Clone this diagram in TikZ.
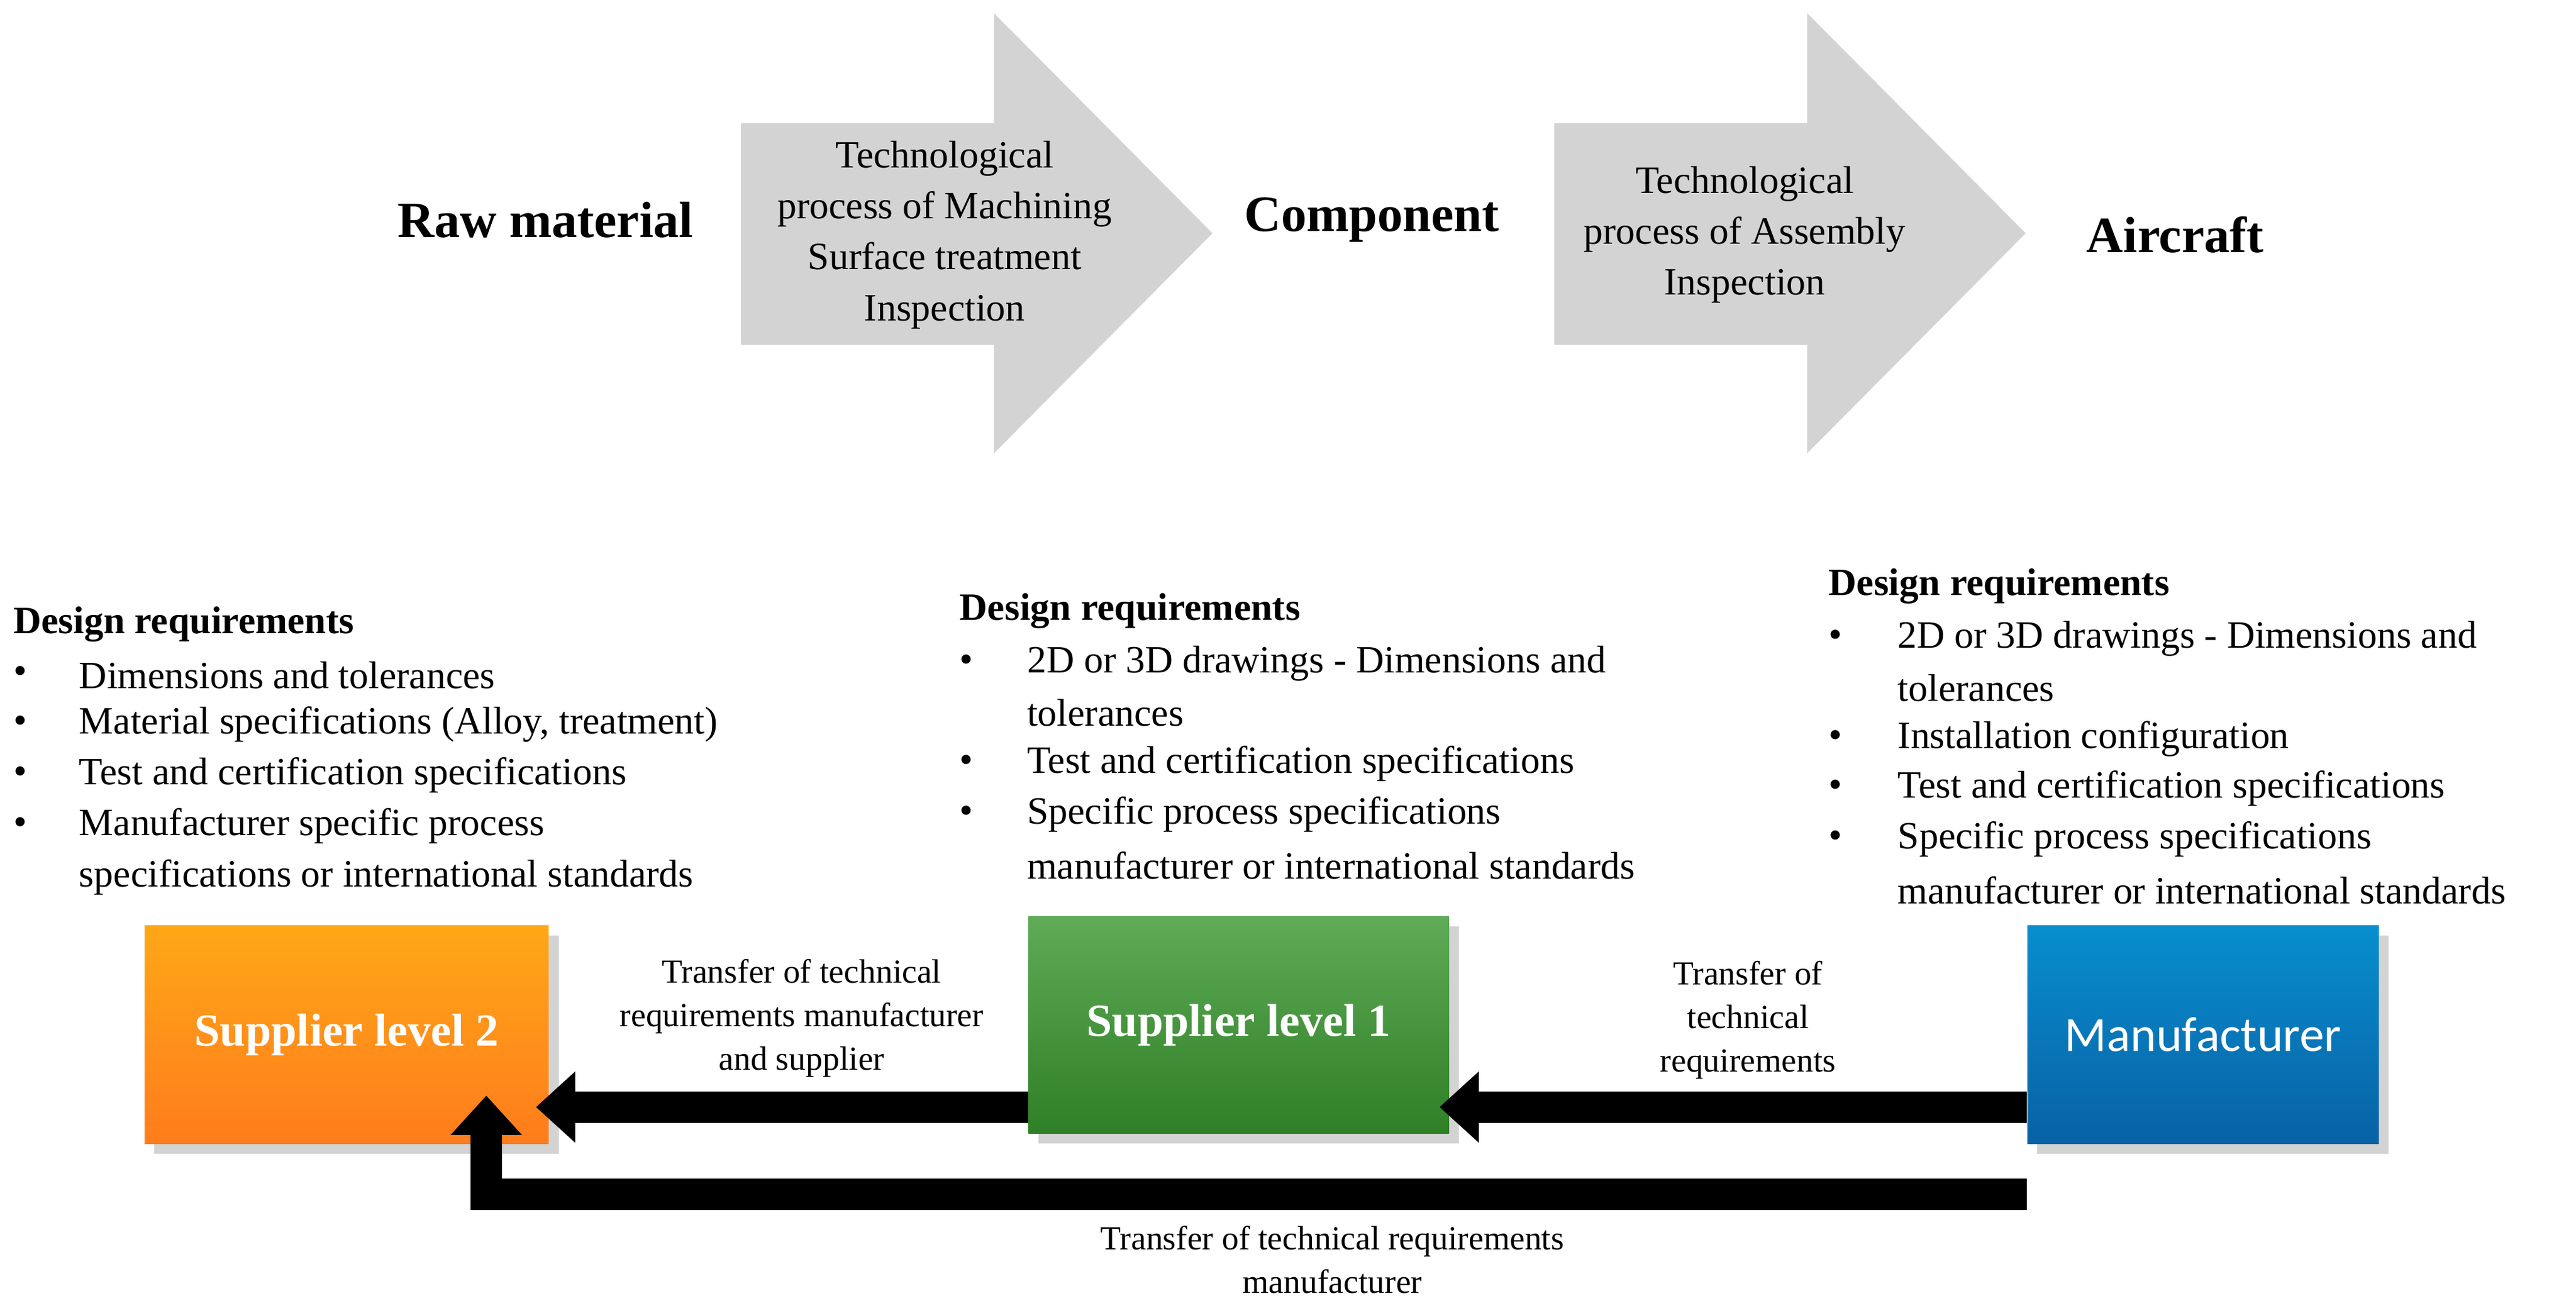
\documentclass[tikz,border=0pt]{standalone}
\usepackage{fontspec}
\setmainfont{Liberation Serif}
\newfontfamily\carl{Carlito}
\usetikzlibrary{arrows.meta,shadows}
\definecolor{grayarr}{HTML}{D3D3D3}
\definecolor{orng}{HTML}{FF8A1F}
\definecolor{grn}{HTML}{37962D}
\definecolor{blu}{HTML}{0A72C2}
\begin{document}
\begin{tikzpicture}[x=1pt,y=-1pt,
  big/.style={font=\fontsize{31}{36}\selectfont\bfseries},
  proc/.style={align=center,font=\fontsize{23.5}{31}\selectfont},
  body/.style={anchor=west,font=\fontsize{23.5}{30}\selectfont,inner sep=0},
  head/.style={anchor=west,font=\fontsize{23.5}{30}\selectfont\bfseries,inner sep=0},
  lab/.style={align=center,font=\fontsize{20.5}{26.5}\selectfont},
  box/.style={draw=none,drop shadow={shadow xshift=6pt,shadow yshift=-6pt,opacity=0.35},text=white},
  flow/.style={line width=19pt,-{Triangle[length=24pt,width=42pt]}}]
\useasboundingbox (0,0) rectangle (1568,796);
\fill[grayarr] (451,75)--(605,75)--(605,8)--(738,142)--(605,276)--(605,210)--(451,210)--cycle;
\fill[grayarr] (946,75)--(1100,75)--(1100,8)--(1233,142)--(1100,276)--(1100,210)--(946,210)--cycle;
\node[big] (raw) at (332,134) {Raw material};
\node[big] (comp) at (835,134) {Component};
\node[big] (air) at (1324,143) {Aircraft};
\node[proc] (p1) at (575,143) {Technological\\process of Machining\\Surface treatment\\Inspection};
\node[proc] (p2) at (1062,143) {Technological\\process of Assembly\\Inspection};
% left requirements
\node[head] (h1) at (8,380) {Design requirements};
\foreach \y/\t in {411/Dimensions and tolerances,441/{Material specifications (Alloy, treatment)},472/Test and certification specifications,503/Manufacturer specific process}
  {\node[body] at (8,\y) {•}; \node[body] at (48,\y) {\t};}
\node[body] at (48,534) {specifications or international standards};
% middle
\node[head] (h2) at (584,372) {Design requirements};
\foreach \y/\t in {404/2D or 3D drawings - Dimensions and,465/Test and certification specifications,496/Specific process specifications}
  {\node[body] at (584,\y) {•}; \node[body] at (625,\y) {\t};}
\node[body] at (625,434) {tolerances};
\node[body] at (625,527) {manufacturer or international standards};
% right
\node[head] (h3) at (1113,357) {Design requirements};
\foreach \y/\t in {389/2D or 3D drawings - Dimensions and,450/Installation configuration,480/Test and certification specifications,511/Specific process specifications}
  {\node[body] at (1113,\y) {•}; \node[body] at (1155,\y) {\t};}
\node[body] at (1155,419) {tolerances};
\node[body] at (1155,542) {manufacturer or international standards};
% boxes
\node[box,top color=orng!75!yellow,bottom color=orng!90!red,minimum width=246pt,minimum height=133pt,font=\fontsize{28}{32}\selectfont\bfseries] (s2) at (211,630) {Supplier level 2};
\node[box,top color=grn!80!white,bottom color=grn!85!black,minimum width=256pt,minimum height=132pt,font=\fontsize{28}{32}\selectfont\bfseries] (s1) at (754,624) {Supplier level 1};
\node[box,top color=blu!80!cyan,bottom color=blu!85!black,minimum width=214pt,minimum height=133pt,font=\carl\fontsize{30}{34}\selectfont] (m) at (1341,630) {Manufacturer};
% connectors
\coordinate (mr) at (m.west |- 0,674);
\coordinate (s1r) at (s1.east |- 0,674);
\coordinate (s1l) at (s1.west |- 0,674);
\coordinate (s2r) at (s2.east |- 0,674);
\coordinate (mb) at (m.west |- 0,727);
\coordinate (s2b) at (296,667);
\draw[flow] (mr) -- ([xshift=-6pt]s1r);
\draw[flow] (s1l) -- ([xshift=-8pt]s2r);
\draw[flow] (mb) -| (s2b);
\node[lab] (l1) at (488,620) {Transfer of technical\\requirements manufacturer\\and supplier};
\node[lab] (l2) at (1064,621) {Transfer of\\technical\\requirements};
\node[lab] (l3) at (811,767) {Transfer of technical requirements\\manufacturer};
\end{tikzpicture}
\end{document}
